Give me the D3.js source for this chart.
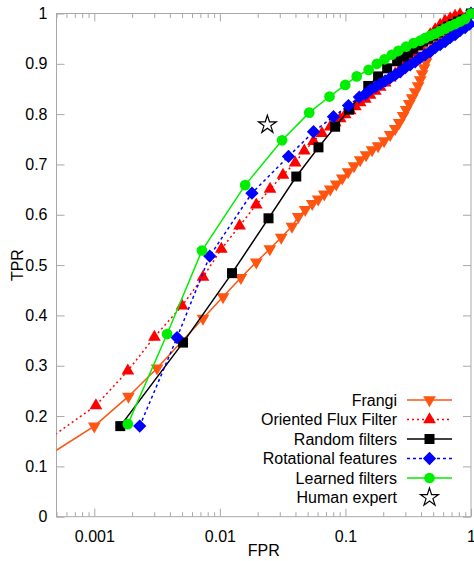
<!DOCTYPE html>
<html>
<head>
<meta charset="utf-8">
<script src="https://cdn.jsdelivr.net/npm/d3@7"></script>
<style>
  body { margin: 0; background: #fff; }
  text { font-family: "Liberation Sans", Arial, sans-serif; }
</style>
</head>
<body>
<svg id="chart" width="474" height="561"></svg>
<script>
// ROC curves: false positive rate (log scale) vs true positive rate
const seriesNames = ["Frangi", "Oriented Flux Filter", "Random filters", "Rotational features", "Learned filters"];

const frangiFPR = [0.0002, 0.001, 0.00187, 0.00316, 0.00734, 0.0106, 0.0147, 0.0195, 0.025, 0.0308, 0.0375, 0.0421, 0.0478, 0.0544, 0.0607, 0.0678, 0.0757, 0.0845, 0.0943, 0.105, 0.117, 0.131, 0.146, 0.163, 0.182, 0.203, 0.227, 0.249, 0.268, 0.288, 0.304, 0.322, 0.340, 0.359, 0.379, 0.394, 0.408, 0.423, 0.439, 0.455, 0.472, 0.499, 0.527, 0.568, 0.610, 0.657, 0.707, 0.775, 0.849, 0.930, 1];
const frangiTPR = [0.069, 0.18, 0.239, 0.295, 0.394, 0.437, 0.475, 0.506, 0.532, 0.555, 0.577, 0.596, 0.610, 0.622, 0.631, 0.641, 0.651, 0.661, 0.673, 0.685, 0.697, 0.709, 0.719, 0.729, 0.737, 0.747, 0.759, 0.771, 0.783, 0.797, 0.809, 0.821, 0.832, 0.844, 0.856, 0.868, 0.880, 0.892, 0.904, 0.916, 0.926, 0.936, 0.944, 0.952, 0.960, 0.968, 0.976, 0.983, 0.989, 0.995, 1];

const offFPR = [0.0002, 0.00103, 0.00185, 0.00301, 0.005, 0.00734, 0.01028, 0.01436, 0.0195, 0.0251, 0.0318, 0.0398, 0.047, 0.0557, 0.065, 0.0757, 0.0829, 0.0909, 0.0996, 0.109, 0.120, 0.131, 0.144, 0.157, 0.173, 0.189, 0.207, 0.227, 0.249, 0.273, 0.299, 0.328, 0.359, 0.393, 0.431, 0.473, 0.518, 0.568, 0.622, 0.682, 0.747, 0.818, 1];
const offTPR = [0.095, 0.221, 0.29, 0.357, 0.419, 0.476, 0.532, 0.578, 0.62, 0.651, 0.679, 0.703, 0.727, 0.746, 0.762, 0.775, 0.783, 0.791, 0.799, 0.807, 0.815, 0.823, 0.830, 0.838, 0.846, 0.854, 0.862, 0.872, 0.880, 0.890, 0.899, 0.909, 0.922, 0.934, 0.946, 0.958, 0.968, 0.977, 0.985, 0.990, 0.995, 0.998, 1];

const randomFPR = [0.00161, 0.00509, 0.0125, 0.0244, 0.0406, 0.061, 0.0828, 0.107, 0.152, 0.182, 0.215, 0.258, 0.293, 0.316, 0.346, 0.379, 0.416, 0.455, 0.499, 0.547, 0.600, 0.657, 0.720, 0.789, 0.865, 1];
const randomTPR = [0.18, 0.346, 0.484, 0.593, 0.676, 0.734, 0.775, 0.809, 0.856, 0.875, 0.891, 0.905, 0.914, 0.922, 0.930, 0.937, 0.944, 0.950, 0.956, 0.962, 0.968, 0.974, 0.979, 0.984, 0.988, 1];

const rotFPR = [0.0023, 0.00456, 0.0083, 0.018, 0.0352, 0.0557, 0.0803, 0.1057, 0.129, 0.144, 0.157, 0.173, 0.189, 0.207, 0.227, 0.249, 0.273, 0.299, 0.328, 0.359, 0.393, 0.431, 0.473, 0.518, 0.568, 0.622, 0.682, 0.747, 0.818, 0.897, 0.975, 1];
const rotTPR = [0.18, 0.356, 0.518, 0.643, 0.716, 0.765, 0.795, 0.817, 0.834, 0.840, 0.848, 0.854, 0.860, 0.866, 0.872, 0.878, 0.884, 0.892, 0.898, 0.904, 0.912, 0.918, 0.924, 0.932, 0.938, 0.944, 0.952, 0.958, 0.966, 0.972, 0.979, 1];

const learnedFPR = [0.00185, 0.0038, 0.0072, 0.0159, 0.0313, 0.0515, 0.0747, 0.0996, 0.123, 0.153, 0.178, 0.205, 0.234, 0.264, 0.304, 0.348, 0.394, 0.431, 0.473, 0.518, 0.568, 0.622, 0.682, 0.747, 0.818, 0.897, 1];
const learnedTPR = [0.184, 0.363, 0.529, 0.659, 0.748, 0.803, 0.835, 0.858, 0.875, 0.888, 0.900, 0.909, 0.918, 0.926, 0.934, 0.941, 0.946, 0.951, 0.956, 0.960, 0.965, 0.970, 0.975, 0.979, 0.984, 0.989, 1];

const humanFPR = [0.0239];
const humanTPR = [0.779];

const xMajorTicks = [0.001, 0.01, 0.1, 1];
const xTickLabels = ["0.001", "0.01", "0.1", "1"];
const yTicks = [0, 0.1, 0.2, 0.3, 0.4, 0.5, 0.6, 0.7, 0.8, 0.9, 1];
const yTickLabels = ["0", "0.1", "0.2", "0.3", "0.4", "0.5", "0.6", "0.7", "0.8", "0.9", "1"];

// ---- layout ----
const L = 56.5, R = 471, T = 13.5, B = 516.7;
const svg = d3.select("#chart");
const x = d3.scaleLog().domain([0.0005, 1]).range([L, R]);
const y = d3.scaleLinear().domain([0, 1]).range([B, T]);
const gridGrey = "#a8a8a8";

// minor ticks 2..9 per decade inside the domain
const xMinorTicks = [];
for (let e = -4; e <= -1; e++) {
  for (let m = 2; m <= 9; m++) {
    const v = m * Math.pow(10, e);
    if (v >= 0.0005 && v <= 1) xMinorTicks.push(v);
  }
}

function styleAxis(g) {
  g.select(".domain").remove();
  g.selectAll(".tick line").attr("stroke", gridGrey);
  g.selectAll(".tick text").attr("fill", "#000").attr("font-size", 16)
    .style("font-family", '"Liberation Sans", Arial, sans-serif');
}

// bottom
svg.append("g").attr("transform", `translate(0,${B})`)
  .call(d3.axisBottom(x).tickValues(xMajorTicks).tickSize(-8).tickPadding(14)
    .tickFormat((d, i) => xTickLabels[i]))
  .call(styleAxis);
svg.append("g").attr("transform", `translate(0,${B})`)
  .call(d3.axisBottom(x).tickValues(xMinorTicks).tickSize(-4.5).tickFormat(""))
  .call(styleAxis);
// top
svg.append("g").attr("transform", `translate(0,${T})`)
  .call(d3.axisTop(x).tickValues(xMajorTicks).tickSize(-8).tickFormat(""))
  .call(styleAxis);
svg.append("g").attr("transform", `translate(0,${T})`)
  .call(d3.axisTop(x).tickValues(xMinorTicks).tickSize(-4.5).tickFormat(""))
  .call(styleAxis);
// left
svg.append("g").attr("transform", `translate(${L},0)`)
  .call(d3.axisLeft(y).tickValues(yTicks).tickSize(-8).tickPadding(9)
    .tickFormat((d, i) => yTickLabels[i]))
  .call(styleAxis);
// right
svg.append("g").attr("transform", `translate(${R},0)`)
  .call(d3.axisRight(y).tickValues(yTicks).tickSize(-8).tickFormat(""))
  .call(styleAxis);

// frame
svg.append("rect").attr("x", L).attr("y", T).attr("width", R - L).attr("height", B - T)
  .attr("fill", "none").attr("stroke", gridGrey).attr("stroke-width", 1);

// axis titles
svg.append("text").attr("x", (L + R) / 2).attr("y", 556).attr("text-anchor", "middle")
  .attr("font-size", 16).text("FPR");
svg.append("text").attr("transform", `translate(23,${(T + B) / 2}) rotate(-90)`)
  .attr("text-anchor", "middle").attr("font-size", 16).text("TPR");

svg.append("clipPath").attr("id", "plotClip").append("rect")
  .attr("x", L).attr("y", T - 1).attr("width", R - L + 1).attr("height", B - T + 1);

// marker shapes
const shapes = {
  down: { type: d3.symbolTriangle, size: 70, rot: 180 },
  up: { type: d3.symbolTriangle, size: 70, rot: 0 },
  square: { type: d3.symbolSquare, size: 100, rot: 0 },
  diamond: { type: d3.symbolSquare, size: 88, rot: 45 },
  circle: { type: d3.symbolCircle, size: 90, rot: 0 },
  star: { type: d3.symbolStar, size: 100, rot: 0 }
};

const series = [
  { name: seriesNames[0], fpr: frangiFPR, tpr: frangiTPR, color: "#ff5511", dash: null, shape: "down" },
  { name: seriesNames[1], fpr: offFPR, tpr: offTPR, color: "#ff0000", dash: "2,3", shape: "up" },
  { name: seriesNames[2], fpr: randomFPR, tpr: randomTPR, color: "#000000", dash: null, shape: "square" },
  { name: seriesNames[3], fpr: rotFPR, tpr: rotTPR, color: "#0000ff", dash: "3,3", shape: "diamond" },
  { name: seriesNames[4], fpr: learnedFPR, tpr: learnedTPR, color: "#00ee00", dash: null, shape: "circle" }
];

const line = d3.line().x(d => x(d[0])).y(d => y(d[1]));

function marker(g, shape, color, cx, cy) {
  const s = shapes[shape];
  g.append("path")
    .attr("d", d3.symbol().type(s.type).size(s.size)())
    .attr("transform", `translate(${cx},${cy}) rotate(${s.rot})`)
    .attr("fill", color);
}

series.forEach(s => {
  const pts = s.fpr.map((f, i) => [f, s.tpr[i]]);
  const g = svg.append("g");
  g.append("path").datum(pts).attr("d", line)
    .attr("clip-path", "url(#plotClip)")
    .attr("fill", "none").attr("stroke", s.color).attr("stroke-width", 1.5)
    .attr("stroke-dasharray", s.dash);
  pts.filter(p => p[0] >= x.domain()[0]).forEach(p => marker(g, s.shape, s.color, x(p[0]), y(p[1])));
});

// human expert operating point
const starSym = d3.symbol().type(shapes.star.type).size(shapes.star.size)();
humanFPR.forEach((f, i) => {
  svg.append("path").attr("d", starSym)
    .attr("transform", `translate(${x(f)},${y(humanTPR[i])})`)
    .attr("fill", "#fff").attr("stroke", "#000").attr("stroke-width", 1.2);
});

// legend
const legX = 397, legY0 = 400, legDy = 19.5, sx0 = 407, sx1 = 452, smx = 429.5;
const legend = svg.append("g");
series.forEach((s, i) => {
  const yy = legY0 + i * legDy;
  legend.append("text").attr("x", legX).attr("y", yy).attr("dy", "0.35em")
    .attr("text-anchor", "end").attr("font-size", 16).text(s.name);
  legend.append("line").attr("x1", sx0).attr("x2", sx1).attr("y1", yy).attr("y2", yy)
    .attr("stroke", s.color).attr("stroke-width", 1.5).attr("stroke-dasharray", s.dash);
  marker(legend, s.shape, s.color, smx, yy);
});
const hy = legY0 + 5 * legDy;
legend.append("text").attr("x", legX).attr("y", hy).attr("dy", "0.35em")
  .attr("text-anchor", "end").attr("font-size", 16).text("Human expert");
legend.append("path").attr("d", starSym).attr("transform", `translate(${smx},${hy})`)
  .attr("fill", "#fff").attr("stroke", "#000").attr("stroke-width", 1.2);
</script>
</body>
</html>
